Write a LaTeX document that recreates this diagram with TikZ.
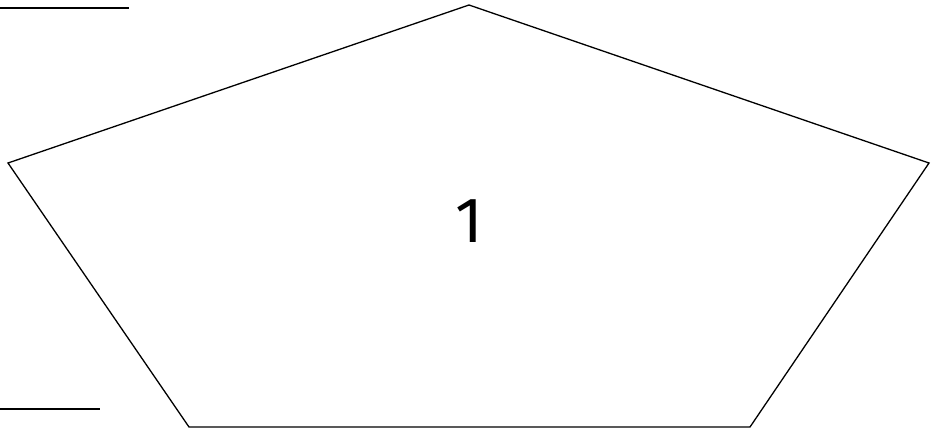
\documentclass[tikz,border=0pt]{standalone}
\usepackage{fontspec}
\setmainfont{Fira Sans}
\tikzset{edge/.style={draw=black,line width=1.3pt,line join=miter}}
\begin{document}
\begin{tikzpicture}[x=1pt,y=-1pt]
\useasboundingbox (0,0) rectangle (934,429);
\coordinate (t1) at (0,8); \coordinate (t2) at (129,8);
\coordinate (b1) at (0,409); \coordinate (b2) at (100,409);
\draw[edge] (t1) -- (t2);
\draw[edge] (b1) -- (b2);
\coordinate (p1) at (469,5);
\coordinate (p2) at (929,163);
\coordinate (p3) at (750,427);
\coordinate (p4) at (189,427);
\coordinate (p5) at (8,163);
\draw[edge] (p1) -- (p2) -- (p3) -- (p4) -- (p5) -- cycle;
\node[inner sep=0pt] (lbl) at (469,221) {\fontsize{64}{64}\selectfont 1};
\end{tikzpicture}
\end{document}
